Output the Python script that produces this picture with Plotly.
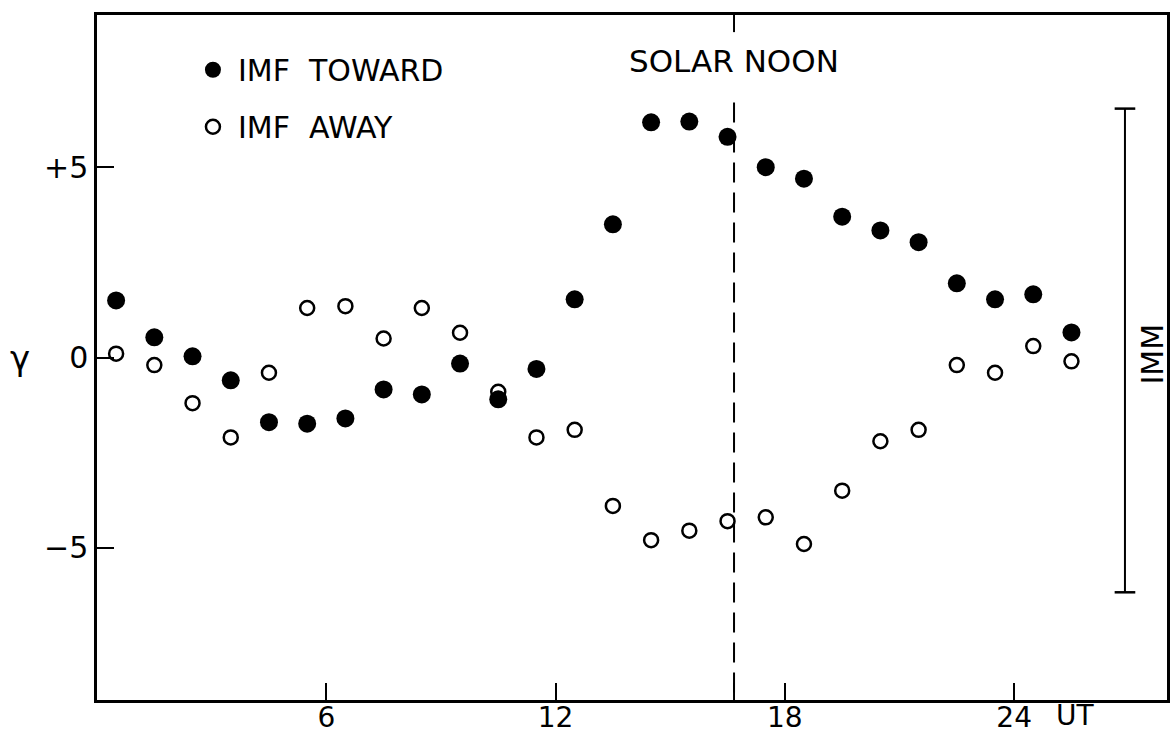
import plotly.graph_objects as go

# Universal time (hours) of each hourly mean
ut_hours = [0.5, 1.5, 2.5, 3.5, 4.5, 5.5, 6.5, 7.5, 8.5, 9.5, 10.5, 11.5, 12.5,
            13.5, 14.5, 15.5, 16.5, 17.5, 18.5, 19.5, 20.5, 21.5, 22.5, 23.5, 24.5, 25.5]

imf_toward = [1.5, 0.53, 0.03, -0.6, -1.7, -1.74, -1.6, -0.84, -0.97, -0.16, -1.1, -0.3, 1.53,
              3.5, 6.18, 6.2, 5.8, 5.0, 4.7, 3.7, 3.34, 3.03, 1.95, 1.53, 1.66, 0.66]

imf_away = [0.1, -0.2, -1.2, -2.1, -0.4, 1.3, 1.35, 0.5, 1.3, 0.65, -0.9, -2.1, -1.9,
            -3.9, -4.8, -4.55, -4.3, -4.2, -4.9, -3.5, -2.2, -1.9, -0.2, -0.4, 0.3, -0.1]

x_tick_vals = [6, 12, 18, 24]
x_tick_text = ["6", "12", "18", "24"]
y_tick_vals = [-5, 0, 5]
y_tick_text = ["\u22125", "0", "+5"]

solar_noon = 16.67
scale_bar_x = 26.9
scale_bar_top = 6.54
scale_bar_bottom = -6.17

FONT = "DejaVu Sans"
fig = go.Figure()

fig.add_trace(go.Scatter(
    x=ut_hours, y=imf_toward, mode="markers", name="IMF  TOWARD",
    legendgroup="t",
    marker=dict(symbol="circle", size=18, color="black"),
))
fig.add_trace(go.Scatter(
    x=ut_hours, y=imf_away, mode="markers", name="IMF  AWAY",
    legendgroup="a",
    marker=dict(symbol="circle-open", size=14, color="black", line=dict(width=2.5, color="black")),
))

# Solar noon dashed line
fig.add_shape(type="line", x0=solar_noon, x1=solar_noon, y0=6.7, y1=-9,
              line=dict(color="black", width=2, dash="20px,10px"), layer="below")
# small ticks for solar noon on top and bottom axes
fig.add_shape(type="line", x0=solar_noon, x1=solar_noon, y0=9, y1=8.55,
              line=dict(color="black", width=2))
fig.add_shape(type="line", x0=solar_noon, x1=solar_noon, y0=-9, y1=-8.55,
              line=dict(color="black", width=2))

# Scale bar
fig.add_shape(type="line", x0=scale_bar_x, x1=scale_bar_x, y0=scale_bar_bottom, y1=scale_bar_top,
              line=dict(color="black", width=2))
for yy in (scale_bar_top, scale_bar_bottom):
    fig.add_shape(type="line", x0=scale_bar_x - 0.27, x1=scale_bar_x + 0.27, y0=yy, y1=yy,
                  line=dict(color="black", width=2.5))

fig.add_annotation(x=27.63, y=0.1, text="IMM", showarrow=False, textangle=-90,
                   xanchor="center", yanchor="middle",
                   font=dict(family=FONT, size=30, color="black"))
fig.add_annotation(x=solar_noon, y=7.8, text="SOLAR NOON", showarrow=False,
                   xanchor="center", yanchor="middle",
                   font=dict(family=FONT, size=31, color="black"))
fig.add_annotation(xref="paper", yref="y", x=-0.072, y=0, text="\u03b3", showarrow=False,
                   xanchor="center", yanchor="middle",
                   font=dict(family="DejaVu Sans", size=34, color="black"))
fig.add_annotation(x=25.05, y=-9, yref="y", xanchor="left", yanchor="top", yshift=3,
                   text="UT", showarrow=False,
                   font=dict(family=FONT, size=28, color="black"))

fig.update_xaxes(range=[0, 28], tickvals=x_tick_vals, ticktext=x_tick_text,
                 ticks="inside", ticklen=17, tickwidth=2, tickcolor="black",
                 showline=True, linewidth=2.5, linecolor="black", mirror=True,
                 showgrid=False, zeroline=False, automargin=False,
                 ticklabelstandoff=-9,
                 tickfont=dict(family=FONT, size=28, color="black"))
fig.update_yaxes(range=[-9, 9], tickvals=y_tick_vals, ticktext=y_tick_text,
                 ticks="inside", ticklen=17, tickwidth=2, tickcolor="black",
                 showline=True, linewidth=2.5, linecolor="black", mirror=True,
                 showgrid=False, zeroline=False, automargin=False,
                 tickfont=dict(family=FONT, size=30, color="black"))

fig.update_layout(
    width=1170, height=736,
    margin=dict(l=97, r=3, t=15, b=36, autoexpand=False),
    paper_bgcolor="white", plot_bgcolor="white",
    showlegend=True,
    legend=dict(x=0.085, y=0.958, xanchor="left", yanchor="top",
                font=dict(family=FONT, size=30, color="black"),
                bgcolor="rgba(0,0,0,0)", tracegroupgap=15, itemwidth=40),
)

fig.write_html("out.html", config={"displayModeBar": False},
               post_script="document.body.style.margin='0px';")
